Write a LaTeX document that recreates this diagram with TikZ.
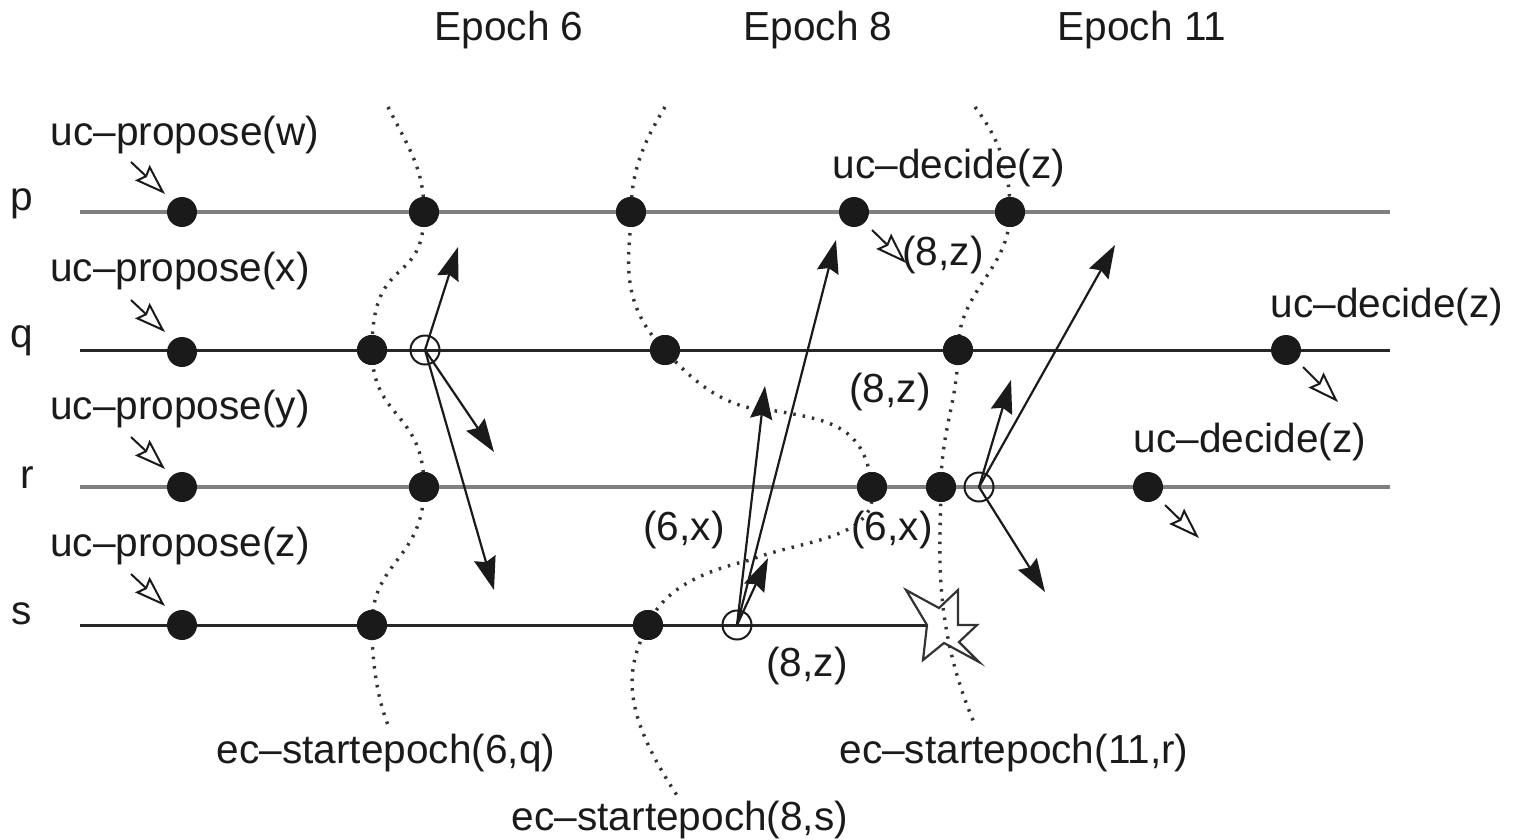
\documentclass[tikz,border=0pt]{standalone}
\usepackage{fontspec}
\setmainfont{Liberation Sans}
\usetikzlibrary{arrows.meta}
\definecolor{ink}{HTML}{1A1A1A}
\tikzset{
  lbl/.style={inner sep=0pt,text=ink,yshift=-2.5pt,font=\fontsize{40.6}{44}\selectfont},
  dotn/.style={circle,fill=ink,draw=none,minimum size=30pt,inner sep=0pt},
  hollow/.style={circle,draw=ink,line width=2pt,minimum size=29pt,inner sep=0pt},
  grayline/.style={draw=black!50,line width=4pt},
  thinline/.style={draw=black!85,line width=3pt},
  msg/.style={draw=ink,line width=2.2pt,-{Stealth[length=33pt,width=22pt,inset=4pt]}},
  envt/.style={draw=ink,line width=2pt,-{Stealth[open,fill=white,length=31pt,width=21pt,inset=4pt]}},
  cut/.style={draw=black!80,line width=3.4pt,dash pattern=on 2.5pt off 7pt},
}
\begin{document}
\begin{tikzpicture}[x=1pt,y=-1pt]
\useasboundingbox (0,0) rectangle (1519,839);
% line end points
\foreach \n/\y in {p/212,q/350,r/487,s/625}{\coordinate (\n L) at (80,\y);}
\coordinate (pR) at (1390,212);
\coordinate (qR) at (1390,350);
\coordinate (rR) at (1390,487);
\coordinate (sR) at (927,625);
% process lines
\draw[grayline] (pL) -- (pR);
\draw[thinline] (qL) -- (qR);
\draw[grayline] (rL) -- (rR);
\draw[thinline] (sL) -- (sR);
% crash star
\draw[fill=white,draw=black!80,line width=2.2pt,line join=miter]
  (906,590) -- (939,608) -- (958,590) -- (958,625) -- (977,625) -- (959,642) -- (979,662) -- (944,643) -- (923,660) -- (927,625) -- cycle;
% nodes
\node[dotn] (p1) at (182,212) {};
\node[dotn] (q1) at (182,352) {};
\node[dotn] (r1) at (182,487) {};
\node[dotn] (s1) at (182,625) {};
\node[dotn] (p2) at (424,212) {};
\node[dotn] (q2) at (372,350) {};
\node[dotn] (r2) at (424,487) {};
\node[dotn] (s2) at (372,625) {};
\node[dotn] (p3) at (631,212) {};
\node[dotn] (q3) at (665,350) {};
\node[dotn] (r3) at (872,487) {};
\node[dotn] (s3) at (648,625) {};
\node[dotn] (p4) at (854,212) {};
\node[dotn] (p5) at (1010,212) {};
\node[dotn] (q5) at (958,350) {};
\node[dotn] (r5) at (941,487) {};
\node[dotn] (q6) at (1286,350) {};
\node[dotn] (r6) at (1148,487) {};
\node[hollow] (hq) at (425,350) {};
\node[hollow] (hs) at (737,625) {};
\node[hollow] (hr) at (979,487) {};
% epoch cuts
\coordinate (c6a) at (388,107);
\coordinate (c6b) at (388,725);
\coordinate (c8a) at (665,107);
\coordinate (c8m) at (770,410);
\coordinate (c8n) at (750,560);
\coordinate (c8b) at (680,800);
\coordinate (c11a) at (975,107);
\coordinate (c11b) at (975,725);
\draw[cut] (c6a) .. controls (410,150) and (424,170) .. (p2.center)
  .. controls (424,290) and (372,250) .. (q2.center)
  .. controls (372,420) and (424,410) .. (r2.center)
  .. controls (424,560) and (372,560) .. (s2.center)
  .. controls (372,665) and (378,700) .. (c6b);
\draw[cut] (c8a) .. controls (645,140) and (631,170) .. (p3.center)
  .. controls (631,250) and (615,300) .. (q3.center)
  .. controls (695,385) and (730,410) .. (c8m)
  .. controls (830,420) and (865,425) .. (r3.center)
  .. controls (880,540) and (800,540) .. (c8n)
  .. controls (710,570) and (665,585) .. (s3.center)
  .. controls (625,670) and (620,710) .. (c8b);
\draw[cut] (c11a) .. controls (1000,140) and (1010,170) .. (p5.center)
  .. controls (1010,270) and (958,290) .. (q5.center)
  .. controls (958,400) and (941,430) .. (r5.center)
  .. controls (941,540) and (930,620) .. (c11b);
% redraw markers over the cuts
\foreach \n/\x/\y in {p2/424/212,q2/372/350,r2/424/487,s2/372/625,p3/631/212,q3/665/350,r3/872/487,s3/648/625,p5/1010/212,q5/958/350,r5/941/487}{
  \fill[ink] (\x,\y) circle (15pt);}
% message arrows
\coordinate (m1) at (458,247);
\coordinate (m2) at (494,452);
\coordinate (m3) at (494,590);
\coordinate (m4) at (768,558);
\coordinate (m5) at (765,386);
\coordinate (m6) at (836,240);
\coordinate (m7) at (1011,380);
\coordinate (m8) at (1115,245);
\coordinate (m9) at (1045,592);
\draw[msg] (hq.center) -- (m1);
\draw[msg] (hq.center) -- (m2);
\draw[msg] (hq.center) -- (m3);
\draw[msg] (hs.center) -- (m4);
\draw[msg] (hs.center) -- (m5);
\draw[msg] (hs.center) -- (m6);
\draw[msg] (hr.center) -- (m7);
\draw[msg] (hr.center) -- (m8);
\draw[msg] (hr.center) -- (m9);
% environment arrows
\coordinate (e1a) at (131,162); \coordinate (e1b) at (165,194);
\coordinate (e2a) at (131,300); \coordinate (e2b) at (165,332);
\coordinate (e3a) at (131,437); \coordinate (e3b) at (165,469);
\coordinate (e4a) at (131,574); \coordinate (e4b) at (165,606);
\coordinate (e5a) at (872,230); \coordinate (e5b) at (906,263);
\coordinate (e6a) at (1303,367); \coordinate (e6b) at (1338,402);
\coordinate (e7a) at (1165,505); \coordinate (e7b) at (1199,538);
\foreach \i in {1,...,7}{\draw[envt] (e\i a) -- (e\i b);}
% labels
\node[lbl] (lp) at (22,201) {p};
\node[lbl] (lq) at (22,338) {q};
\node[lbl] (lr) at (27,475) {r};
\node[lbl] (ls) at (22,611) {s};
\node[lbl] (ep6) at (509,27) {Epoch 6};
\node[lbl] (ep8) at (818,27) {Epoch 8};
\node[lbl] (ep11) at (1142,27) {Epoch 11};
\node[lbl] (upw) at (185,132) {uc–propose(w)};
\node[lbl] (upx) at (180,268) {uc–propose(x)};
\node[lbl] (upy) at (180,406) {uc–propose(y)};
\node[lbl] (upz) at (180,543) {uc–propose(z)};
\node[lbl] (ud1) at (949,165) {uc–decide(z)};
\node[lbl] (ud2) at (1387,304) {uc–decide(z)};
\node[lbl] (ud3) at (1250,439) {uc–decide(z)};
\node[lbl] (v1) at (943,252) {(8,z)};
\node[lbl] (v2) at (890,389) {(8,z)};
\node[lbl] (v3) at (684,527) {(6,x)};
\node[lbl] (v4) at (892,527) {(6,x)};
\node[lbl] (v5) at (807,663) {(8,z)};
\node[lbl] (es6) at (386,750) {ec–startepoch(6,q)};
\node[lbl] (es8) at (680,817) {ec–startepoch(8,s)};
\node[lbl] (es11) at (1014,750) {ec–startepoch(11,r)};
\end{tikzpicture}
\end{document}
